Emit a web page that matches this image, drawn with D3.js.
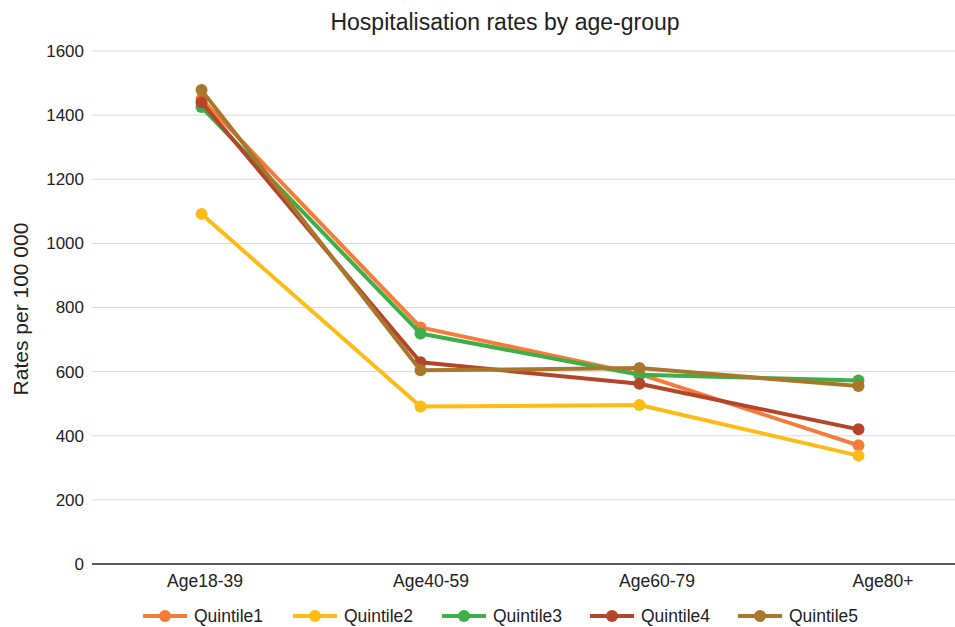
<!DOCTYPE html>
<html lang="en">
<head>
    <meta charset="UTF-8">
    <title>Hospitalisation rates by age-group</title>
    <style>
        body{margin:0;background:#fff;}
        text{font-family:"Liberation Sans",Arial,sans-serif;fill:#222;}
    </style>
</head>
<body>
<script src="https://cdn.jsdelivr.net/npm/d3@7/dist/d3.min.js"></script>
<script>
    var ageGroups=["Age18-39","Age40-59","Age60-79","Age80+"];
    var seriesNames=["Quintile1","Quintile2","Quintile3","Quintile4","Quintile5"];
    var quintile1=[1450,738,592,370];
    var quintile2=[1092,491,496,338];
    var quintile3=[1425,719,590,572];
    var quintile4=[1440,629,562,420];
    var quintile5=[1478,604,611,555];
    var yTicks=[0,200,400,600,800,1000,1200,1400,1600];
    var colors=["#F47B3A","#FDBB16","#3FAD48","#B4452A","#A8772C"];

    var allSeries=[quintile1,quintile2,quintile3,quintile4,quintile5];

    var width=955;
    var height=627;
    var svg=d3.select('body')
            .append('svg')
            .attr('width',width)
            .attr('height',height);

    var x=d3.scaleBand()
            .domain(ageGroups)
            .range([92,968]);
    // the category labels sit on a slightly wider spacing than the points
    var xLabel=d3.scaleBand()
            .domain(ageGroups)
            .range([92,996]);
    var y=d3.scaleLinear()
            .domain([0,1600])
            .range([564,51]);

    // gridlines
    svg.append('g')
            .selectAll('line')
            .data(yTicks.slice(1))
            .enter()
            .append('line')
            .attr('x1',92)
            .attr('x2',968)
            .attr('y1',function(d){return y(d);})
            .attr('y2',function(d){return y(d);})
            .attr('stroke','#d9d9d9')
            .attr('stroke-width',1);

    // y tick labels
    svg.append('g')
            .selectAll('text')
            .data(yTicks)
            .enter()
            .append('text')
            .attr('x',84)
            .attr('y',function(d){return y(d);})
            .attr('dy','0.35em')
            .attr('text-anchor','end')
            .attr('font-size','17px')
            .text(function(d){return d;});

    // baseline
    svg.append('line')
            .attr('x1',92)
            .attr('x2',968)
            .attr('y1',y(0))
            .attr('y2',y(0))
            .attr('stroke','#222')
            .attr('stroke-width',1.5);

    // category labels
    svg.append('g')
            .selectAll('text')
            .data(ageGroups)
            .enter()
            .append('text')
            .attr('x',function(d){return xLabel(d)+xLabel.bandwidth()/2;})
            .attr('y',587)
            .attr('text-anchor','middle')
            .attr('font-size','17.5px')
            .text(function(d){return d;});

    // title
    svg.append('text')
            .attr('x',505)
            .attr('y',30)
            .attr('text-anchor','middle')
            .attr('font-size','23px')
            .text('Hospitalisation rates by age-group');

    // y axis title
    svg.append('text')
            .attr('transform','translate(28,309) rotate(-90)')
            .attr('text-anchor','middle')
            .attr('font-size','21px')
            .text('Rates per 100 000');

    var line=d3.line()
            .x(function(d,i){return x(ageGroups[i])+x.bandwidth()/2;})
            .y(function(d){return y(d);});

    var groups=svg.append('g')
            .selectAll('g')
            .data(allSeries)
            .enter()
            .append('g');

    groups.append('path')
            .attr('d',function(d){return line(d);})
            .attr('fill','none')
            .attr('stroke',function(d,i){return colors[i];})
            .attr('stroke-width',4)
            .attr('stroke-linejoin','round');

    groups.each(function(s,si){
        d3.select(this).selectAll('circle')
                .data(s)
                .enter()
                .append('circle')
                .attr('cx',function(d,i){return x(ageGroups[i])+x.bandwidth()/2;})
                .attr('cy',function(d){return y(d);})
                .attr('r',6)
                .attr('fill',colors[si]);
    });

    // legend
    var legendX=[143,293,442,590,738];
    var legend=svg.append('g')
            .selectAll('g')
            .data(seriesNames)
            .enter()
            .append('g')
            .attr('transform',function(d,i){return 'translate('+legendX[i]+',616)';});
    legend.append('line')
            .attr('x1',0).attr('x2',44)
            .attr('y1',0).attr('y2',0)
            .attr('stroke',function(d,i){return colors[i];})
            .attr('stroke-width',4);
    legend.append('circle')
            .attr('cx',22).attr('cy',0).attr('r',6)
            .attr('fill',function(d,i){return colors[i];});
    legend.append('text')
            .attr('x',51)
            .attr('y',0)
            .attr('dy','0.35em')
            .attr('font-size','17.5px')
            .text(function(d){return d;});
</script>
</body>
</html>
